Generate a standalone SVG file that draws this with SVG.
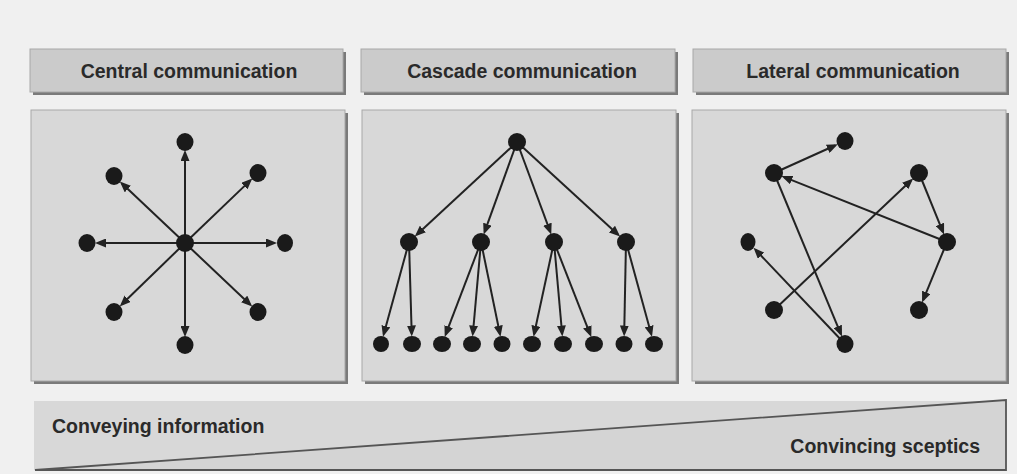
<svg xmlns="http://www.w3.org/2000/svg" width="1017" height="474" viewBox="0 0 1017 474">
<defs>
<marker id="ah" markerUnits="userSpaceOnUse" markerWidth="11" markerHeight="9" refX="8" refY="4.5" orient="auto">
<path d="M0,0 L11,4.5 L0,9 Z" fill="#222"/>
</marker>
<style>
.bg{fill:#f0f0f0}
.shadow{fill:#7a7a7a}
.hdr{fill:#cbcbcb;stroke:#a8a8a8;stroke-width:1}
.panel{fill:#d8d8d8;stroke:#a8a8a8;stroke-width:1}
.ht{font-family:"Liberation Sans",Arial,sans-serif;font-weight:bold;font-size:19.5px;fill:#2a2a2a;text-anchor:middle}
.bt{font-family:"Liberation Sans",Arial,sans-serif;font-weight:bold;font-size:19.5px;fill:#2a2a2a}
.e{stroke:#222;stroke-width:2;fill:none;marker-end:url(#ah)}
.n{fill:#1a1a1a}
</style>
</defs>
<rect class="bg" x="0" y="0" width="1017" height="474"/>

<g id="header-central">
<rect class="shadow" x="33" y="52" width="313" height="43"/>
<rect class="hdr" x="30" y="49" width="313" height="43"/>
<text class="ht" x="189" y="78">Central communication</text>
</g>
<g id="header-cascade">
<rect class="shadow" x="364" y="52" width="314" height="43"/>
<rect class="hdr" x="361" y="49" width="314" height="43"/>
<text class="ht" x="522" y="78">Cascade communication</text>
</g>
<g id="header-lateral">
<rect class="shadow" x="696" y="52" width="313" height="43"/>
<rect class="hdr" x="693" y="49" width="313" height="43"/>
<text class="ht" x="853" y="78">Lateral communication</text>
</g>

<g id="panel-central">
<rect class="shadow" x="34" y="113" width="314" height="271"/>
<rect class="panel" x="31" y="110" width="314" height="271"/>
</g>
<g id="panel-cascade">
<rect class="shadow" x="365" y="113" width="314" height="271"/>
<rect class="panel" x="362" y="110" width="314" height="271"/>
</g>
<g id="panel-lateral">
<rect class="shadow" x="695" y="113" width="314" height="271"/>
<rect class="panel" x="692" y="110" width="314" height="271"/>
</g>

<g id="connectors">
<!-- central -->
<line class="e" x1="185" y1="243" x2="185" y2="153"/>
<line class="e" x1="185" y1="243" x2="185" y2="334"/>
<line class="e" x1="185" y1="243" x2="98" y2="243"/>
<line class="e" x1="185" y1="243" x2="274" y2="243"/>
<line class="e" x1="185" y1="243" x2="122" y2="183.6"/>
<line class="e" x1="185" y1="243" x2="250.1" y2="180.6"/>
<line class="e" x1="185" y1="243" x2="121.9" y2="304.3"/>
<line class="e" x1="185" y1="243" x2="250" y2="304.4"/>
<!-- cascade -->
<line class="e" x1="517" y1="142" x2="417" y2="234.5"/>
<line class="e" x1="517" y1="142" x2="484.7" y2="231.7"/>
<line class="e" x1="517" y1="142" x2="550.2" y2="231.7"/>
<line class="e" x1="517" y1="142" x2="617.9" y2="234.5"/>
<line class="e" x1="409" y1="242" x2="383.8" y2="333.9"/>
<line class="e" x1="409" y1="242" x2="411.7" y2="333.5"/>
<line class="e" x1="481" y1="242" x2="445.8" y2="334.2"/>
<line class="e" x1="481" y1="242" x2="472.9" y2="333.5"/>
<line class="e" x1="481" y1="242" x2="499.9" y2="333.7"/>
<line class="e" x1="554" y1="242" x2="534.2" y2="333.7"/>
<line class="e" x1="554" y1="242" x2="562.1" y2="333.5"/>
<line class="e" x1="554" y1="242" x2="590.2" y2="334.3"/>
<line class="e" x1="626" y1="242" x2="624.2" y2="333.5"/>
<line class="e" x1="626" y1="242" x2="651.2" y2="333.9"/>
<!-- lateral -->
<line class="e" x1="774" y1="173" x2="835" y2="145.5"/>
<line class="e" x1="947" y1="242" x2="784.2" y2="177.1"/>
<line class="e" x1="774" y1="173" x2="840.8" y2="333.8"/>
<line class="e" x1="774" y1="310" x2="911" y2="180.5"/>
<line class="e" x1="919" y1="173" x2="942.9" y2="231.8"/>
<line class="e" x1="947" y1="242" x2="923.2" y2="299.8"/>
<line class="e" x1="845" y1="344" x2="755.6" y2="249.9"/>
</g>

<g id="nodes-central">
<g id="c-center"><circle class="n" cx="185" cy="243" r="9"/></g>
<g id="c-top"><ellipse class="n" cx="185" cy="142" rx="8.5" ry="9"/></g>
<g id="c-bottom"><ellipse class="n" cx="185" cy="345" rx="8.5" ry="9"/></g>
<g id="c-left"><ellipse class="n" cx="87" cy="243" rx="8.5" ry="9"/></g>
<g id="c-right"><ellipse class="n" cx="285" cy="243" rx="8" ry="9"/></g>
<g id="c-topleft"><ellipse class="n" cx="114" cy="176" rx="8.5" ry="9"/></g>
<g id="c-topright"><ellipse class="n" cx="258" cy="173" rx="8.5" ry="9"/></g>
<g id="c-bottomleft"><ellipse class="n" cx="114" cy="312" rx="8.5" ry="9"/></g>
<g id="c-bottomright"><ellipse class="n" cx="258" cy="312" rx="8.5" ry="9"/></g>
</g>

<g id="nodes-cascade">
<g id="k-root"><circle class="n" cx="517" cy="142" r="9"/></g>
<g id="k-m1"><circle class="n" cx="409" cy="242" r="9"/></g>
<g id="k-m2"><circle class="n" cx="481" cy="242" r="9"/></g>
<g id="k-m3"><circle class="n" cx="554" cy="242" r="9"/></g>
<g id="k-m4"><circle class="n" cx="626" cy="242" r="9"/></g>
<g id="k-l1"><ellipse class="n" cx="381" cy="344" rx="8" ry="8"/></g>
<g id="k-l2"><ellipse class="n" cx="412" cy="344" rx="9" ry="8"/></g>
<g id="k-l3"><ellipse class="n" cx="442" cy="344" rx="9" ry="8"/></g>
<g id="k-l4"><ellipse class="n" cx="472" cy="344" rx="9" ry="8"/></g>
<g id="k-l5"><ellipse class="n" cx="502" cy="344" rx="8.5" ry="8"/></g>
<g id="k-l6"><ellipse class="n" cx="532" cy="344" rx="9" ry="8"/></g>
<g id="k-l7"><ellipse class="n" cx="563" cy="344" rx="9" ry="8"/></g>
<g id="k-l8"><ellipse class="n" cx="594" cy="344" rx="9" ry="8"/></g>
<g id="k-l9"><ellipse class="n" cx="624" cy="344" rx="8.5" ry="8"/></g>
<g id="k-l10"><ellipse class="n" cx="654" cy="344" rx="9" ry="8"/></g>
</g>

<g id="nodes-lateral">
<g id="l-a"><ellipse class="n" cx="845" cy="141" rx="8.5" ry="9"/></g>
<g id="l-b"><ellipse class="n" cx="774" cy="173" rx="9" ry="9"/></g>
<g id="l-c"><ellipse class="n" cx="919" cy="173" rx="9" ry="9"/></g>
<g id="l-d"><ellipse class="n" cx="748" cy="242" rx="7.5" ry="9"/></g>
<g id="l-e"><ellipse class="n" cx="947" cy="242" rx="9" ry="9"/></g>
<g id="l-f"><ellipse class="n" cx="774" cy="310" rx="9" ry="9"/></g>
<g id="l-g"><ellipse class="n" cx="919" cy="310" rx="9" ry="9"/></g>
<g id="l-h"><ellipse class="n" cx="845" cy="344" rx="8.5" ry="9"/></g>
</g>

<g id="scale-bar">
<rect x="34" y="401" width="972" height="69" fill="#d8d8d8"/>
<path d="M35,470 L1006,400 L1006,470 Z" fill="#d4d4d4" stroke="#555" stroke-width="1.8" stroke-linejoin="miter"/>
<text class="bt" x="52" y="433">Conveying information</text>
<text class="bt" x="980" y="453" text-anchor="end">Convincing sceptics</text>
</g>
</svg>
